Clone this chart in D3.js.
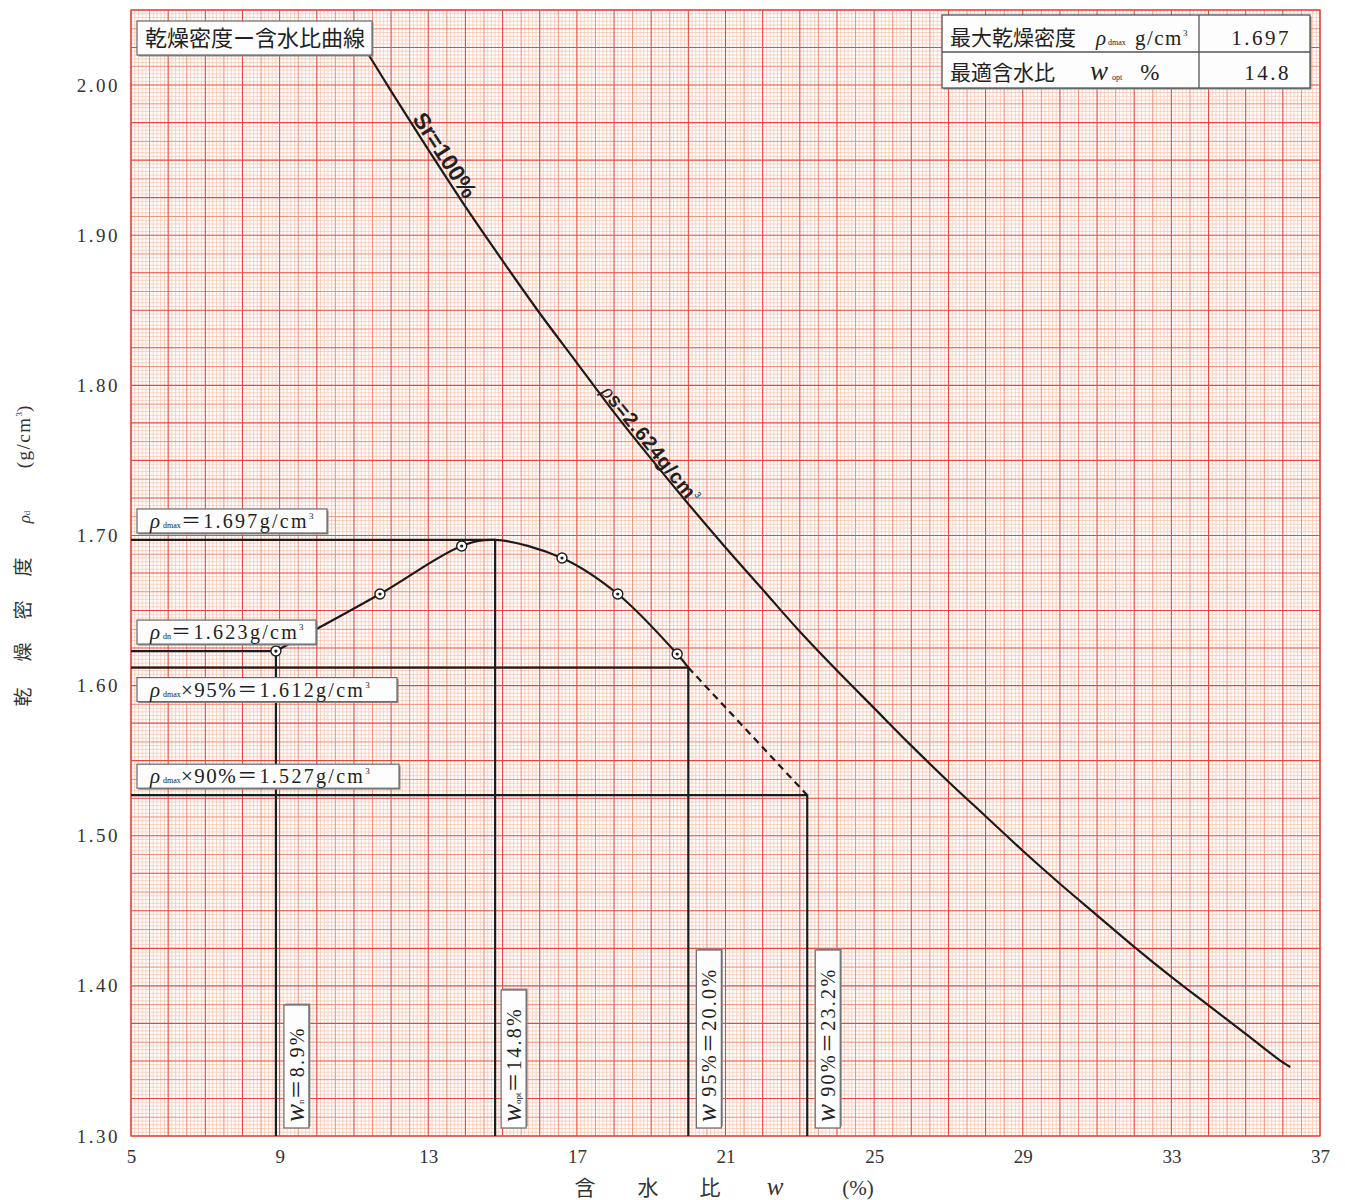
<!DOCTYPE html>
<html><head><meta charset="utf-8">
<script src="https://cdn.jsdelivr.net/npm/d3@7"></script>
<style>body{margin:0;background:#fff}</style>
</head><body><svg id="c" width="1345" height="1200"></svg>
<script>
// ---------- data ----------
const xTicks=[5,9,13,17,21,25,29,33,37];
const yTicks=[1.30,1.40,1.50,1.60,1.70,1.80,1.90,2.00];
// measured compaction test points (w %, rho_d g/cm3)
const testW=[8.9,11.7,13.9,16.6,18.1,19.7];
const testRho=[1.623,1.661,1.693,1.685,1.661,1.621];
// drawn compaction curve (solid)
const curveW=[8.9,11.7,13.9,14.8,16.6,18.1,19.7,20.0];
const curveRho=[1.623,1.661,1.693,1.697,1.685,1.661,1.621,1.612];
// extrapolated dashed part
const dashW=[20.0,23.2];
const dashRho=[1.612,1.527];
// zero-air-voids (Sr=100%) curve
const satW=[11.4,12,13,14,15,16,17,18,19,20,21,22,23,24,25,26,27,28,29,30,31,32,33,34,35,36,36.2];
const satRho=[2.020,1.996,1.957,1.919,1.883,1.848,1.815,1.782,1.751,1.721,1.692,1.664,1.636,1.610,1.585,1.560,1.536,1.513,1.490,1.468,1.447,1.426,1.406,1.387,1.368,1.349,1.346];
// reference values
const rhoDmax=1.697, wOpt=14.8, rhoDn=1.623, wN=8.9, rho95=1.612, w95=20.0, rho90=1.527, w90=23.2;
const tableRows=[["最大乾燥密度","1.697"],["最適含水比","14.8"]];

// ---------- setup ----------
const svg=d3.select('#c');
const x=d3.scaleLinear().domain([5,37]).range([131,1320]);
const y=d3.scaleLinear().domain([1.30,2.05]).range([1136,10]);
const SERIF="'Liberation Serif','DejaVu Serif','Noto Sans CJK JP',serif";
const CJK="'Noto Sans CJK JP','Noto Sans CJK SC',sans-serif";
const NARROW="'Liberation Sans Narrow','Liberation Sans',sans-serif";
const INK="#1b1b1b";

svg.append('rect').attr('width',1345).attr('height',1200).attr('fill','#fff');

// ---------- graph paper grid ----------
const grid=svg.append('g');
const lvl=i=>i%10===0?2:(i%5===0?1:0);
const gs=[{c:'#fbc3ae',w:0.75},{c:'#f3806a',w:0.9},{c:'#e9463c',w:1.1}];
[0,1,2].forEach(L=>{
  grid.append('g').selectAll('line').data(d3.range(0,321).filter(i=>lvl(i)===L)).join('line')
    .attr('x1',i=>x(5+i*0.1)).attr('x2',i=>x(5+i*0.1)).attr('y1',y(2.05)).attr('y2',y(1.30))
    .attr('stroke',gs[L].c).attr('stroke-width',gs[L].w);
  grid.append('g').selectAll('line').data(d3.range(0,301).filter(j=>lvl(j)===L)).join('line')
    .attr('y1',j=>y(1.30+j*0.0025)).attr('y2',j=>y(1.30+j*0.0025)).attr('x1',x(5)).attr('x2',x(37))
    .attr('stroke',gs[L].c).attr('stroke-width',gs[L].w);
});
grid.append('rect').attr('x',x(5)).attr('y',y(2.05)).attr('width',x(37)-x(5)).attr('height',y(1.30)-y(2.05))
  .attr('fill','none').attr('stroke','#e9463c').attr('stroke-width',1.3);

// ---------- axes ----------
const ax=svg.append('g').attr('transform',`translate(${x(5)},0)`)
  .call(d3.axisLeft(y).tickValues(yTicks).tickSize(0).tickPadding(11).tickFormat(d3.format('.2f')));
ax.select('.domain').remove();
ax.selectAll('text').attr('font-family',SERIF).attr('font-size',19).attr('fill','#333').attr('letter-spacing',2.5);
const bx=svg.append('g').attr('transform',`translate(0,${y(1.30)})`)
  .call(d3.axisBottom(x).tickValues(xTicks).tickSize(0).tickPadding(14).tickFormat(d3.format('d')));
bx.select('.domain').remove();
bx.selectAll('text').attr('font-family',SERIF).attr('font-size',19).attr('fill','#333');

// axis titles
const yt=svg.append('text').attr('transform','rotate(-90)').attr('y',30).attr('font-size',19).attr('fill','#333').attr('text-anchor','middle');
[["乾",697],["燥",652],["密",610],["度",567]].forEach(d=>{
  yt.append('tspan').attr('x',-d[1]).attr('y',30).attr('font-family',CJK).text(d[0]);
});
yt.append('tspan').attr('x',-517).attr('y',30).attr('font-family',SERIF).attr('font-style','italic').attr('font-size',17).text('ρ');
yt.append('tspan').attr('font-family',SERIF).attr('font-size',9).text('d');
yt.append('tspan').attr('x',-437).attr('y',30).attr('font-family',SERIF).attr('font-size',19).attr('letter-spacing',1.5).text('(g/cm');
yt.append('tspan').attr('font-family',SERIF).attr('font-size',9).attr('dy',-8).text('3');
yt.append('tspan').attr('font-family',SERIF).attr('font-size',19).attr('dy',8).text(')');

const xt=svg.append('text').attr('y',1195).attr('font-size',21).attr('fill','#333').attr('text-anchor','middle');
[["含",585,CJK,'normal',21],["水",648,CJK,'normal',21],["比",710,CJK,'normal',21],["w",775,SERIF,'italic',25],["(%)",858,SERIF,'normal',21]].forEach(d=>{
  xt.append('tspan').attr('x',d[1]).attr('font-family',d[2]).attr('font-style',d[3]).attr('font-size',d[4]).text(d[0]);
});

// ---------- lines ----------
const marks=svg.append('g').attr('fill','none').attr('stroke',INK).attr('stroke-width',2.2);
const ln=d3.line().x(d=>x(d[0])).y(d=>y(d[1]));
[[rhoDmax,wOpt],[rhoDn,wN],[rho95,w95],[rho90,w90]].forEach(([r,w])=>{
  marks.append('path').attr('d',ln([[5,r],[w,r],[w,1.30]]));
});
marks.append('path').attr('d',d3.line().x(d=>x(d[0])).y(d=>y(d[1])).curve(d3.curveCatmullRom)(d3.zip(satW,satRho)));
marks.append('path').attr('d',d3.line().x(d=>x(d[0])).y(d=>y(d[1])).curve(d3.curveCatmullRom)(d3.zip(curveW,curveRho)));
marks.append('path').attr('d',ln(d3.zip(dashW,dashRho))).attr('stroke-dasharray','7,5');

// test points
const pts=svg.append('g').selectAll('g').data(d3.zip(testW,testRho)).join('g')
  .attr('transform',d=>`translate(${x(d[0])},${y(d[1])})`);
pts.append('circle').attr('r',5).attr('fill','#fff').attr('stroke',INK).attr('stroke-width',1.4);
pts.append('circle').attr('r',1.6).attr('fill',INK);

// ---------- label boxes ----------
function box(p,x0,y0,w,h){
  p.append('rect').attr('x',x0+1.5).attr('y',y0+1.5).attr('width',w).attr('height',h).attr('fill','#8c8c8c');
  p.append('rect').attr('x',x0).attr('y',y0).attr('width',w).attr('height',h).attr('fill','#fdfdfd').attr('stroke','#6a6a6a').attr('stroke-width',1.2);
}
function segText(p,tx,ty,segs){
  const t=p.append('text').attr('x',tx).attr('y',ty).attr('fill','#222');
  segs.forEach(s=>{
    const sp=t.append('tspan').attr('font-family',s.f||SERIF).attr('font-size',s.s||19).text(s.t);
    if(s.i) sp.attr('font-style','italic');
    if(s.b) sp.attr('font-weight','bold');
    if(s.dy) sp.attr('dy',s.dy);
    if(s.dx) sp.attr('dx',s.dx);
    if(s.ls) sp.attr('letter-spacing',s.ls);
  });
  return t;
}
const labels=svg.append('g');
box(labels,137,21,235,34);
labels.append('text').attr('x',145).attr('y',46).attr('font-family',CJK).attr('font-size',22).attr('fill','#222').text('乾燥密度ー含水比曲線');

const hLab=[
  {v:rhoDmax,above:true,w:190,sub:'dmax',mid:'',val:'＝1.697g/cm'},
  {v:rhoDn,above:true,w:179,sub:'dn',mid:'',val:'＝1.623g/cm'},
  {v:rho95,above:false,w:260,sub:'dmax',mid:'×95%',val:'＝1.612g/cm'},
  {v:rho90,above:true,w:262,sub:'dmax',mid:'×90%',val:'＝1.527g/cm'}
];
hLab.forEach(d=>{
  const y0=d.above?y(d.v)-31:y(d.v)+10;
  box(labels,137,y0,d.w,24);
  const segs=[{t:'ρ',i:1,s:21},{t:d.sub,s:8,dx:3}];
  if(d.mid) segs.push({t:d.mid,s:21,ls:1.5});
  segs.push({t:d.val,s:20,ls:2.3},{t:'3',s:9,dy:-9});
  segText(labels,150,y0+19,segs);
});

const vLab=[
  {v:wN,h:123,off:8,segs:[{t:'w',i:1,s:27},{t:'n',s:9},{t:'＝8.9%',s:20,ls:2.3}]},
  {v:wOpt,h:138,off:6,segs:[{t:'w',i:1,s:27},{t:'opt',s:9},{t:'＝14.8%',s:20,ls:2.3}]},
  {v:w95,h:178,off:8,segs:[{t:'w',i:1,s:27},{t:' 95%＝20.0%',s:20,ls:2.3}]},
  {v:w90,h:178,off:8,segs:[{t:'w',i:1,s:27},{t:' 90%＝23.2%',s:20,ls:2.3}]}
];
vLab.forEach(d=>{
  const g=labels.append('g').attr('transform',`translate(${x(d.v)+d.off},1128) rotate(-90)`);
  box(g,0,0,d.h,25);
  segText(g,6,20,d.segs);
});

// table (top right)
const tb=svg.append('g');
tb.append('rect').attr('x',943.5).attr('y',16.5).attr('width',368).attr('height',73).attr('fill','#8c8c8c');
tb.append('rect').attr('x',942).attr('y',15).attr('width',368).attr('height',73).attr('fill','#fdfdfd').attr('stroke','#555').attr('stroke-width',1.3);
tb.append('line').attr('x1',942).attr('x2',1310).attr('y1',52).attr('y2',52).attr('stroke','#555').attr('stroke-width',1.3);
tb.append('line').attr('x1',1199).attr('x2',1199).attr('y1',15).attr('y2',88).attr('stroke','#555').attr('stroke-width',1.3);
tb.append('text').attr('x',950).attr('y',45).attr('font-family',CJK).attr('font-size',21).attr('fill','#222').text(tableRows[0][0]);
tb.append('text').attr('x',950).attr('y',80).attr('font-family',CJK).attr('font-size',21).attr('fill','#222').text(tableRows[1][0]);
segText(tb,1096,45,[{t:'ρ',i:1,s:21},{t:'dmax',s:8,dx:2},{t:'g/cm',s:21,dx:9,ls:1.5},{t:'3',s:9,dy:-9}]);
segText(tb,1090,80,[{t:'w',i:1,s:27},{t:'opt',s:8,dx:4},{t:'%',s:23,dx:18}]);
tb.append('text').attr('x',1291).attr('y',45).attr('text-anchor','end').attr('font-family',SERIF).attr('font-size',21).attr('letter-spacing',2.5).attr('fill','#222').text(tableRows[0][1]);
tb.append('text').attr('x',1291).attr('y',80).attr('text-anchor','end').attr('font-family',SERIF).attr('font-size',21).attr('letter-spacing',2.5).attr('fill','#222').text(tableRows[1][1]);

// ---------- curve labels along Sr=100% ----------
function onSat(w){
  const f=d3.scaleLinear().domain(satW).range(satRho);
  const p=[x(w),y(f(w))], q=[x(w+0.2),y(f(w+0.2))];
  return {p,ang:Math.atan2(q[1]-p[1],q[0]-p[0])*180/Math.PI};
}
const s1=onSat(13.2);
svg.append('text').attr('transform',`translate(${s1.p[0]},${s1.p[1]}) rotate(${s1.ang})`).attr('y',-3)
  .attr('text-anchor','middle').attr('font-family',NARROW).attr('font-weight','bold')
  .attr('font-size',23).attr('fill','#222').text('Sr=100%');
const s2=onSat(18.8);
const t2=svg.append('g').attr('transform',`translate(${s2.p[0]},${s2.p[1]}) rotate(${s2.ang})`);
const tt=segText(t2,0,-2,[{t:'ρ',i:1,s:21},{t:'s=2.624g/cm',s:20,f:NARROW,b:1,ls:0.8},{t:'3',s:9,dy:-9,f:NARROW}]);
tt.attr('text-anchor','middle');
</script></body></html>
